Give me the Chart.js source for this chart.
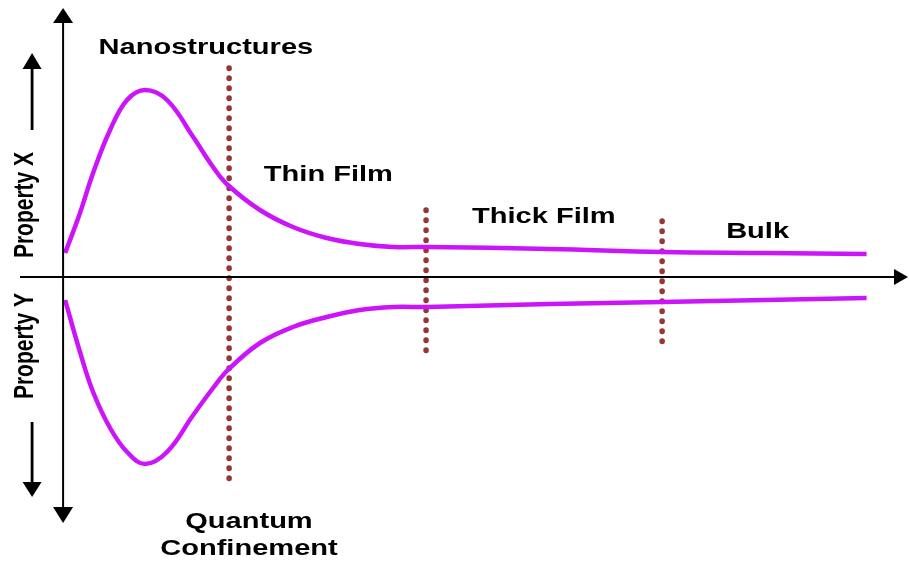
<!DOCTYPE html>
<html>
<head>
<meta charset="utf-8">
<script src="https://cdn.jsdelivr.net/npm/chart.js@4.4.1/dist/chart.umd.min.js"></script>
<style>
  html, body { margin: 0; padding: 0; background: #fff; }
</style>
</head>
<body>
<canvas id="sizeEffect" width="909" height="565"></canvas>
<script>
// size axis (arbitrary units, 0 = origin)
var sizeX = [0.24, 2.0, 3.55, 5.56, 7.57, 9.7, 12.3, 15.4, 17.75, 19.5, 23.3, 27.2, 31.2, 35.1, 39.05, 43.1, 57.6, 70.9, 83.1, 95.1];
var propertyX = [12, 32, 52, 73.5, 88.5, 93.5, 88.5, 70, 55, 46, 33.5, 25, 19.5, 16.5, 15, 15, 14, 12.5, 12, 11.5];
var propertyY = [-11.5, -37.5, -57.5, -75.5, -87.5, -93.5, -87.5, -69, -55.5, -46.5, -33, -25, -20, -16.5, -15, -15, -13.5, -12.5, -11.5, -10.5];

// region boundaries (dotted lines)
var boundaryX = [19.65, 42.96, 70.9];
var boundaryTop = [104.5, 33.5, 28];
var boundaryBottom = [-103, -37.5, -33];

var regionLabels = ['Nanostructures', 'Thin Film', 'Thick Film', 'Bulk'];
var boundaryLabel = ['Quantum', 'Confinement'];
var axisLabels = ['Property X', 'Property Y'];

var curveColor = 'rgb(204, 20, 250)';
var dotColor = '#953735';

function toPoints(xs, ys) {
    return xs.map((x, i) => ({ x: x, y: ys[i] }));
}

var datasets = [
    { data: toPoints(sizeX, propertyX), borderColor: curveColor, borderWidth: 4.5, pointRadius: 0, tension: 0.4 },
    { data: toPoints(sizeX, propertyY), borderColor: curveColor, borderWidth: 4.5, pointRadius: 0, tension: 0.4 }
];
boundaryX.forEach((bx, i) => {
    datasets.push({
        data: [{ x: bx, y: boundaryTop[i] }, { x: bx, y: boundaryBottom[i] }],
        borderColor: dotColor,
        borderWidth: 5.5,
        borderDash: [0.5, 9.5],
        borderCapStyle: 'round',
        pointRadius: 0
    });
});

// axes with arrows + all the text
var annotate = {
    id: 'annotate',
    afterDatasetsDraw(chart) {
        var c = chart.ctx, xs = chart.scales.x, ys = chart.scales.y, a = chart.chartArea;
        var px = v => xs.getPixelForValue(v), py = v => ys.getPixelForValue(v);
        var x0 = px(0), y0 = py(0);

        function arrow(x1, y1, x2, y2, w, l) {
            var ang = Math.atan2(y2 - y1, x2 - x1);
            c.beginPath();
            c.moveTo(x1, y1);
            c.lineTo(x2 - Math.cos(ang) * l * 0.8, y2 - Math.sin(ang) * l * 0.8);
            c.stroke();
            c.save();
            c.translate(x2, y2);
            c.rotate(ang);
            c.beginPath();
            c.moveTo(0, 0);
            c.lineTo(-l, -w / 2);
            c.lineTo(-l, w / 2);
            c.closePath();
            c.fill();
            c.restore();
        }

        c.save();
        c.strokeStyle = '#000';
        c.fillStyle = '#000';
        c.lineWidth = 2;
        // main axes
        arrow(x0, y0, x0, a.top, 20, 15);
        arrow(x0, y0, x0, a.bottom, 20, 16);
        arrow(a.left, y0, a.right, y0, 16, 14);
        // small arrows beside property labels
        c.lineWidth = 2.8;
        arrow(px(-3.67), py(73.5), px(-3.67), py(112), 19, 16);
        arrow(px(-3.67), py(-72.5), px(-3.67), py(-110), 19, 15);

        c.textAlign = 'center';
        c.textBaseline = 'alphabetic';
        c.font = 'bold 22px "Liberation Sans", Arial, sans-serif';
        function label(t, x, y) {
            c.save();
            c.translate(px(x), py(y));
            c.scale(1.32, 1);
            c.fillText(t, 0, 0);
            c.restore();
        }
        label(regionLabels[0], 16.9, 111.5);
        label(regionLabels[1], 31.4, 48);
        label(regionLabels[2], 56.9, 27);
        label(regionLabels[3], 82.2, 19.5);
        label(boundaryLabel[0], 22.0, -125.5);
        label(boundaryLabel[1], 22.0, -139);

        function vlabel(t, x, y) {
            c.save();
            c.translate(px(x), py(y));
            c.scale(1.3, 1);
            c.rotate(-Math.PI / 2);
            c.fillText(t, 0, 0);
            c.restore();
        }
        c.font = 'bold 21px "Liberation Sans", Arial, sans-serif';
        vlabel(axisLabels[0], -3.6, 36);
        vlabel(axisLabels[1], -3.6, -34.5);
        c.restore();
    }
};

var ctx = document.getElementById('sizeEffect').getContext('2d');
var sizeChart = new Chart(ctx, {
    type: 'line',
    data: { datasets: datasets },
    options: {
        responsive: false,
        animation: false,
        layout: { padding: { left: 20, right: 1, top: 8, bottom: 42 } },
        scales: {
            x: { type: 'linear', min: -5.1, max: 100, display: false },
            y: { min: -123, max: 134.5, display: false }
        },
        plugins: {
            legend: { display: false },
            tooltip: { enabled: false }
        }
    },
    plugins: [annotate]
});
</script>
</body>
</html>
